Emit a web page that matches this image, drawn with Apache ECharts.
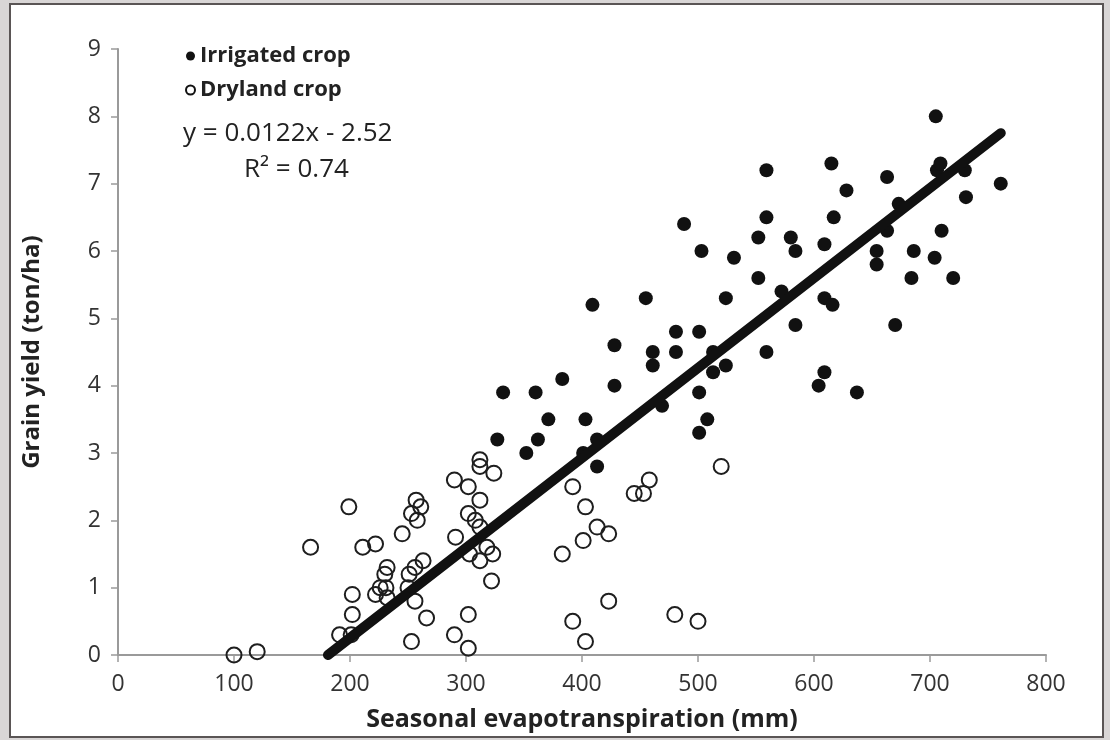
<!DOCTYPE html>
<html>
<head>
<meta charset="utf-8">
<script src="https://cdn.jsdelivr.net/npm/echarts@6/dist/echarts.min.js"></script>
<style>
html,body{margin:0;padding:0;background:#d9d6d6;}
#chart{width:1110px;height:740px;}
</style>
</head>
<body>
<div id="chart"></div>
<script>
// Irrigated crop: [ET (mm), grain yield (ton/ha)]
var irrigated = [
  [327,3.2],[332,3.9],[352,3.0],[360,3.9],[362,3.2],[371,3.5],[383,4.1],[401,3.0],[403,3.5],[409,5.2],
  [413,3.2],[413,2.8],[428,4.6],[428,4.0],[455,5.3],[461,4.5],[461,4.3],[469,3.7],[481,4.8],[481,4.5],
  [488,6.4],[501,4.8],[501,3.9],[501,3.3],[503,6.0],[508,3.5],[513,4.5],[513,4.2],[524,4.3],[524,5.3],
  [531,5.9],[552,6.2],[552,5.6],[559,7.2],[559,6.5],[559,4.5],[572,5.4],[580,6.2],[584,6.0],[584,4.9],
  [604,4.0],[609,4.2],[609,6.1],[609,5.3],[616,5.2],[615,7.3],[617,6.5],[628,6.9],[637,3.9],[654,6.0],
  [654,5.8],[663,7.1],[663,6.3],[670,4.9],[673,6.7],[684,5.6],[686,6.0],[704,5.9],[705,8.0],[706,7.2],
  [709,7.3],[710,6.3],[720,5.6],[730,7.2],[731,6.8],[761,7.0]
];
// Dryland crop: [ET (mm), grain yield (ton/ha)]
var dryland = [
  [100,0.0],[120,0.05],[166,1.6],[199,2.2],[202,0.9],[202,0.6],[191,0.3],[201,0.3],[211,1.6],[222,1.65],
  [222,0.9],[226,1.0],[231,1.0],[232,0.85],[230,1.2],[232,1.3],[245,1.8],[250,1.0],[251,1.2],[256,1.3],
  [263,1.4],[256,0.8],[253,0.2],[266,0.55],[253,2.1],[257,2.3],[258,2.0],[261,2.2],[290,2.6],[291,1.75],
  [290,0.3],[302,2.5],[302,2.1],[308,2.0],[312,1.9],[312,2.3],[312,2.8],[312,2.9],[324,2.7],[318,1.6],
  [323,1.5],[303,1.5],[312,1.4],[322,1.1],[302,0.6],[302,0.1],[383,1.5],[392,2.5],[403,2.2],[401,1.7],
  [413,1.9],[423,1.8],[392,0.5],[403,0.2],[423,0.8],[445,2.4],[453,2.4],[458,2.6],[480,0.6],[500,0.5],
  [520,2.8]
];
// Fitted regression line as drawn (end points)
var trendLine = [[181,0],[761,7.75]];
var xTicks = [0,100,200,300,400,500,600,700,800];
var yTicks = [0,1,2,3,4,5,6,7,8,9];
var equationText = 'y = 0.0122x - 2.52';
var r2Text = 'R\u00B2 = 0.74';

var FONT = 'Open Sans';
var chart = echarts.init(document.getElementById('chart'));
chart.setOption({
  backgroundColor: '#d9d6d6',
  animation: false,
  graphic: [
    {type:'rect', z:-10, shape:{x:10,y:4,width:1093,height:733}, style:{fill:'#ffffff', stroke:'#5a5555', lineWidth:2}},
    {type:'text', left:183, top:121, style:{text:equationText, font:'26px "'+FONT+'"', fill:'#222'}},
    {type:'text', left:244, top:157, style:{text:r2Text, font:'26px "'+FONT+'"', fill:'#222'}}
  ],
  legend: {
    orient:'vertical', left:180, top:40, itemGap:12, itemWidth:9, itemHeight:9,
    textStyle:{fontFamily:FONT, fontWeight:'bold', fontSize:22, color:'#222'},
    data:[
      {name:'Irrigated crop', icon:'circle', itemStyle:{color:'#111', borderWidth:0, opacity:1}},
      {name:'Dryland crop', icon:'circle', itemStyle:{color:'#fff', borderColor:'#111', borderWidth:2}}
    ]
  },
  grid: {left:118, right:64, top:49, bottom:85},
  xAxis: {
    type:'value', min:0, max:800, interval:100,
    name:'Seasonal evapotranspiration (mm)', nameLocation:'middle', nameGap:52,
    nameTextStyle:{fontFamily:FONT, fontWeight:'bold', fontSize:25, color:'#222'},
    axisLine:{lineStyle:{color:'#9a9a9a', width:2}},
    axisTick:{show:true, length:7, lineStyle:{color:'#9a9a9a', width:1.5}},
    axisLabel:{fontFamily:FONT, fontSize:23, color:'#333', margin:18,
      formatter:function(v){return xTicks.indexOf(v)>=0 ? String(v) : '';}},
    splitLine:{show:false}
  },
  yAxis: {
    type:'value', min:0, max:9, interval:1,
    name:'Grain yield (ton/ha)', nameLocation:'middle', nameGap:74,
    nameTextStyle:{fontFamily:FONT, fontWeight:'bold', fontSize:24, color:'#222'},
    axisLine:{show:true, lineStyle:{color:'#9a9a9a', width:2}},
    axisTick:{show:true, length:7, lineStyle:{color:'#9a9a9a', width:1.5}},
    axisLabel:{fontFamily:FONT, fontSize:23, color:'#333', margin:17,
      formatter:function(v){return yTicks.indexOf(v)>=0 ? String(v) : '';}},
    splitLine:{show:false}
  },
  series: [
    {name:'Dryland crop', type:'scatter', data:dryland, symbol:'circle', symbolSize:15, z:2,
     itemStyle:{color:'rgba(255,255,255,0)', borderColor:'#1e1e1e', borderWidth:2, opacity:1}},
    {name:'Irrigated crop', type:'scatter', data:irrigated, symbol:'circle', symbolSize:14, z:3,
     itemStyle:{color:'#111', opacity:1}},
    {name:'Trend', type:'line', data:trendLine, showSymbol:false, symbol:'none', z:4,
     lineStyle:{color:'#111', width:10, cap:'round'}}
  ]
});
</script>
</body>
</html>
